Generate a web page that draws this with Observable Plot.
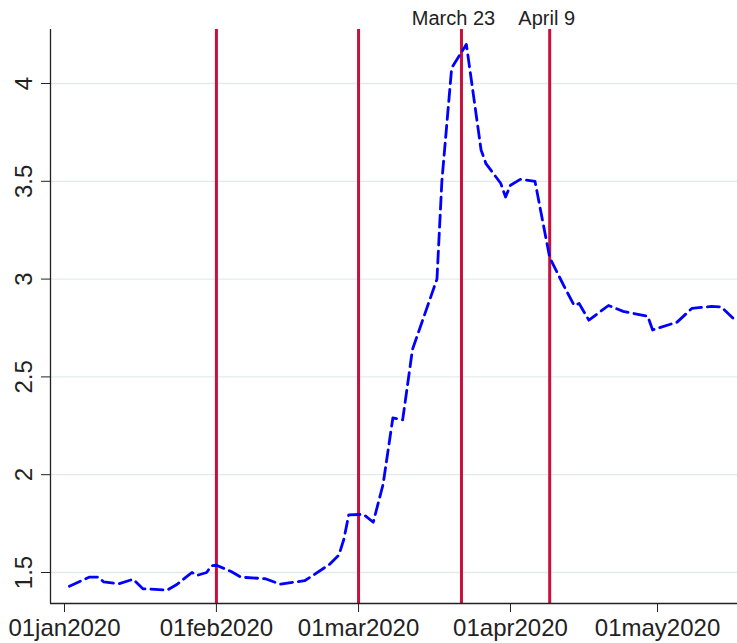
<!DOCTYPE html>
<html>
<head>
<meta charset="utf-8">
<script src="https://cdn.jsdelivr.net/npm/d3@7"></script>
<script src="https://cdn.jsdelivr.net/npm/@observablehq/plot@0.6"></script>
<style>
  html, body { margin: 0; padding: 0; background: #fff; }
  #chart svg { display: block; }
</style>
</head>
<body>
<div id="chart"></div>
<script>
// ---- data ----
const dates = [
  "2020-01-02","2020-01-06","2020-01-08","2020-01-09","2020-01-12","2020-01-15",
  "2020-01-17","2020-01-22","2020-01-24","2020-01-26","2020-01-27","2020-01-28",
  "2020-01-30","2020-01-31","2020-02-01","2020-02-04","2020-02-06","2020-02-11",
  "2020-02-14","2020-02-19","2020-02-21","2020-02-24","2020-02-26","2020-02-27",
  "2020-02-28","2020-03-02","2020-03-04","2020-03-06","2020-03-08","2020-03-10",
  "2020-03-12","2020-03-17","2020-03-18","2020-03-20","2020-03-23","2020-03-26",
  "2020-03-27","2020-03-30","2020-03-31","2020-04-01","2020-04-03","2020-04-06",
  "2020-04-09","2020-04-12","2020-04-14","2020-04-15","2020-04-17","2020-04-21",
  "2020-04-24","2020-04-29","2020-04-30","2020-05-05","2020-05-08","2020-05-12",
  "2020-05-14","2020-05-17"
];
const values = [
  1.43, 1.476, 1.476, 1.452, 1.442, 1.465,
  1.417, 1.41, 1.44, 1.48, 1.50, 1.485,
  1.50, 1.535, 1.537, 1.505, 1.476, 1.468,
  1.44, 1.458, 1.49, 1.54, 1.59, 1.67,
  1.795, 1.797, 1.757, 1.95, 2.29, 2.28,
  2.64, 3.0, 3.5, 4.08, 4.20, 3.66,
  3.59, 3.49, 3.42, 3.48, 3.51, 3.50,
  3.11, 2.96, 2.865, 2.875, 2.79, 2.865,
  2.835, 2.81, 2.74, 2.78, 2.85, 2.86,
  2.858, 2.785
];
const eventDates = ["2020-02-01", "2020-03-01", "2020-03-22", "2020-04-09"];
const labelDates = ["2020-03-22", "2020-04-09"];
const labelTexts = ["March 23", "April 9"];
const labelShift = [-8, -3];
const xTicks = ["2020-01-01", "2020-02-01", "2020-03-01", "2020-04-01", "2020-05-01"];
const yTicks = [1.5, 2, 2.5, 3, 3.5, 4];
const yDomain = [1.3415, 4.276];

// ---- build ----
const parse = d3.utcParse("%Y-%m-%d");
const data = dates.map((d, i) => ({date: parse(d), value: values[i]}));
const xStart = new Date(Date.UTC(2019, 11, 29, 3, 30));
const xEnd = new Date(Date.UTC(2020, 4, 17, 7, 40));
const fmt = d => d3.utcFormat("%d%b%Y")(d).toLowerCase();
const font = "'Liberation Sans Narrow', 'Arial Narrow', 'Liberation Sans', Arial, sans-serif";
const labels = labelDates.map((d, i) => ({date: parse(d), text: labelTexts[i], dx: labelShift[i]}));

const chart = Plot.plot({
  width: 737,
  height: 643,
  marginLeft: 50,
  marginRight: 0,
  marginTop: 29,
  marginBottom: 40,
  style: {fontFamily: font, background: "#fff", color: "#222", overflow: "visible"},
  x: {type: "utc", domain: [xStart, xEnd]},
  y: {domain: yDomain},
  marks: [
    Plot.gridY(yTicks, {stroke: "#e2ebeb", strokeOpacity: 1, strokeWidth: 1.3}),
    Plot.ruleX(eventDates.map(parse), {y1: yDomain[1], y2: yDomain[0], stroke: "#c8103c", strokeWidth: 3}),
    Plot.line(data, {x: "date", y: "value", stroke: "#0000ff", strokeWidth: 2.8, strokeDasharray: "12,6"}),
    Plot.ruleY([yDomain[0]], {stroke: "#222", strokeWidth: 1.3}),
    Plot.ruleX([xStart], {stroke: "#222", strokeWidth: 1.3}),
    Plot.axisX(xTicks.map(parse), {tickFormat: fmt, tickSize: 9, tickPadding: 6, fontSize: 24, label: null, stroke: "#222"}),
    Plot.axisY(yTicks, {tickRotate: -90, tickSize: 9, tickPadding: 10, fontSize: 24, label: null, tickFormat: d => String(d), stroke: "#222"}),
    ...labels.map(l => Plot.text([l], {x: "date", text: "text", frameAnchor: "top", lineAnchor: "bottom", dy: -5, dx: l.dx, fontSize: 20, fill: "#222"}))
  ]
});
document.getElementById("chart").appendChild(chart);
</script>
</body>
</html>
